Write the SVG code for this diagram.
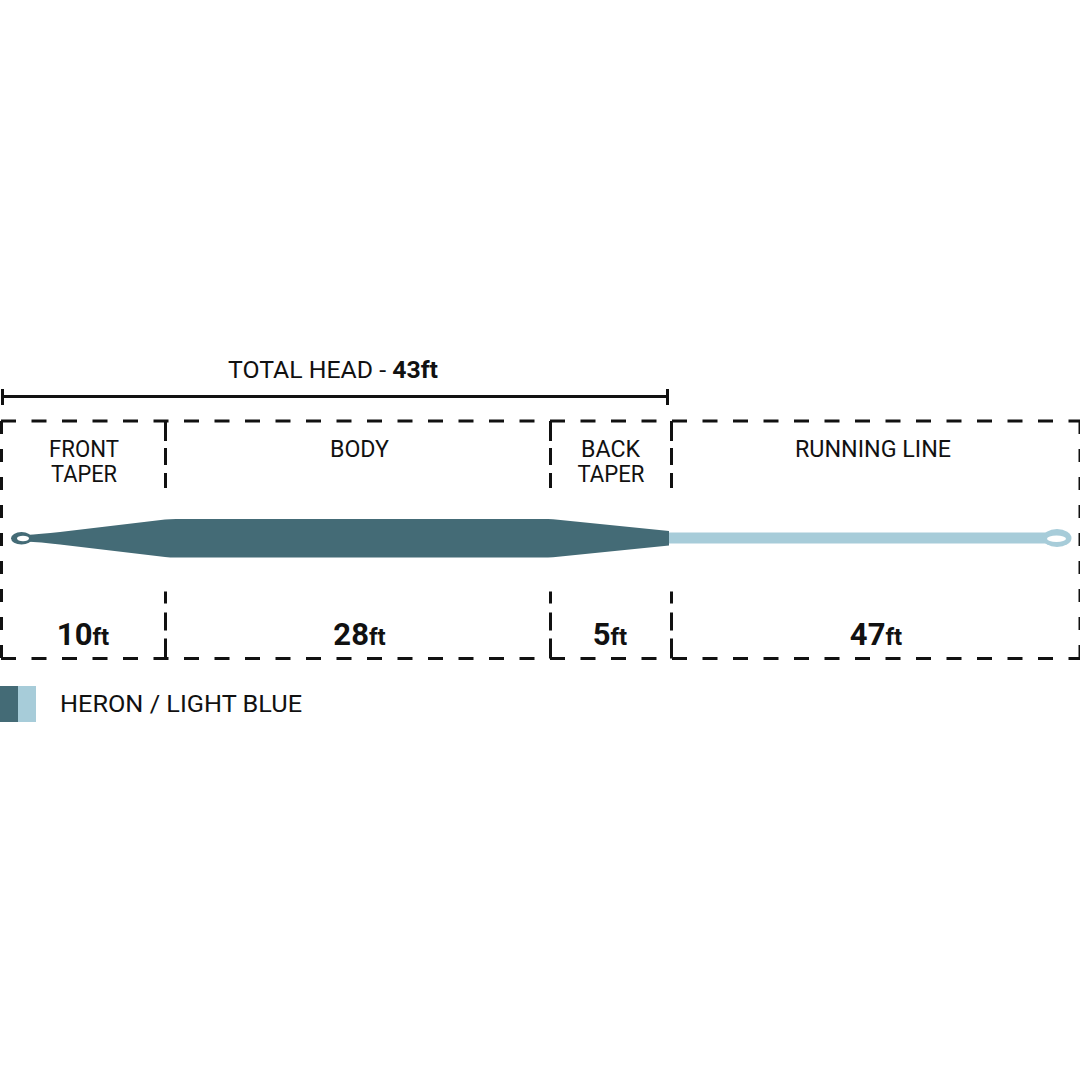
<svg xmlns="http://www.w3.org/2000/svg" width="1080" height="1080" viewBox="0 0 1080 1080">
  <style>
    .lbl { font-family: Roboto, "Liberation Sans", sans-serif; font-size: 24px; fill: #111; text-anchor: middle; }
    .two { font-size: 23px; }
    .num { font-family: Roboto, "Liberation Sans", sans-serif; font-size: 31px; font-weight: 700; fill: #111; text-anchor: middle; }
    .ft { font-size: 24px; font-weight: 700; }
    .dash { fill: none; stroke: #111; stroke-width: 3; }
    .solid { fill: none; stroke: #111; stroke-width: 3; }
    .dark { fill: #446B76; }
    .light { fill: #A7CCD9; }
  </style>
  <rect width="1080" height="1080" fill="#ffffff"/>

  <g id="total-head">
    <line class="solid" x1="2" y1="396.5" x2="668" y2="396.5"/>
    <line class="solid" x1="2.5" y1="389" x2="2.5" y2="405"/>
    <line class="solid" x1="667.5" y1="389" x2="667.5" y2="405"/>
    <text class="lbl" x="333" y="378" font-size="25" textLength="210" lengthAdjust="spacingAndGlyphs">TOTAL HEAD - <tspan font-weight="700">43</tspan><tspan class="ft" font-size="20">ft</tspan></text>
  </g>

  <g id="connectors">
    <line class="dash" x1="1" y1="421" x2="1080" y2="421" stroke-dasharray="15 15.5"/>
    <line class="dash" x1="1" y1="658.5" x2="1080" y2="658.5" stroke-dasharray="15 15.5"/>
    <line class="dash" x1="1.5" y1="421" x2="1.5" y2="658" stroke-dasharray="13 15"/>
    <line class="dash" x1="1080" y1="421" x2="1080" y2="658" stroke-dasharray="13 15"/>
    <path class="dash" d="M165.5,421 V488 M550.5,421 V488 M671.5,421 V488" stroke-dasharray="20 7 17 8 15"/>
    <path class="dash" d="M165.5,658.5 V591.5 M550.5,658.5 V591.5 M671.5,658.5 V591.5" stroke-dasharray="20 8 18 9 12"/>
  </g>

  <g id="front-taper">
    <text class="lbl two" x="84" y="457" textLength="70" lengthAdjust="spacingAndGlyphs">FRONT</text>
    <text class="lbl two" x="84" y="482" textLength="66" lengthAdjust="spacingAndGlyphs">TAPER</text>
    <text class="num" x="83" y="645">10<tspan class="ft">ft</tspan></text>
  </g>
  <g id="body">
    <text class="lbl" x="359.5" y="457" textLength="59" lengthAdjust="spacingAndGlyphs">BODY</text>
    <text class="num" x="359.5" y="645">28<tspan class="ft">ft</tspan></text>
  </g>
  <g id="back-taper">
    <text class="lbl two" x="610.5" y="457" textLength="59" lengthAdjust="spacingAndGlyphs">BACK</text>
    <text class="lbl two" x="611" y="482" textLength="67" lengthAdjust="spacingAndGlyphs">TAPER</text>
    <text class="num" x="610" y="645">5<tspan class="ft">ft</tspan></text>
  </g>
  <g id="running-line">
    <text class="lbl" x="873" y="457" textLength="156" lengthAdjust="spacingAndGlyphs">RUNNING LINE</text>
    <text class="num" x="876" y="645">47<tspan class="ft">ft</tspan></text>
  </g>

  <g id="fly-line">
    <rect class="light" x="666" y="532.5" width="382" height="11"/>
    <ellipse class="light" cx="1057" cy="538" rx="14.5" ry="9"/>
    <ellipse cx="1056.5" cy="538.7" rx="9.5" ry="3.2" fill="#ffffff"/>
    <path class="dark" d="M26,535 Q40,534.2 60,532 L165,519.6 Q170,519 176,519 L548,519 Q553,519 558,519.8 L669,531 L669,545.5 L558,556.7 Q553,557.5 548,557.5 L176,557.5 Q170,557.5 165,556.9 L60,544.5 Q40,542.3 26,541.6 Z"/>
    <ellipse class="dark" cx="21.5" cy="538.3" rx="10.5" ry="6.2"/>
    <ellipse cx="23" cy="538.5" rx="6" ry="2.7" fill="#ffffff"/>
  </g>

  <g id="legend">
    <rect class="dark" x="0" y="686" width="18" height="36"/>
    <rect class="light" x="18" y="686" width="18" height="36"/>
    <text class="lbl" x="60" y="712" font-size="25" style="text-anchor:start" textLength="242" lengthAdjust="spacingAndGlyphs">HERON / LIGHT BLUE</text>
  </g>
</svg>
